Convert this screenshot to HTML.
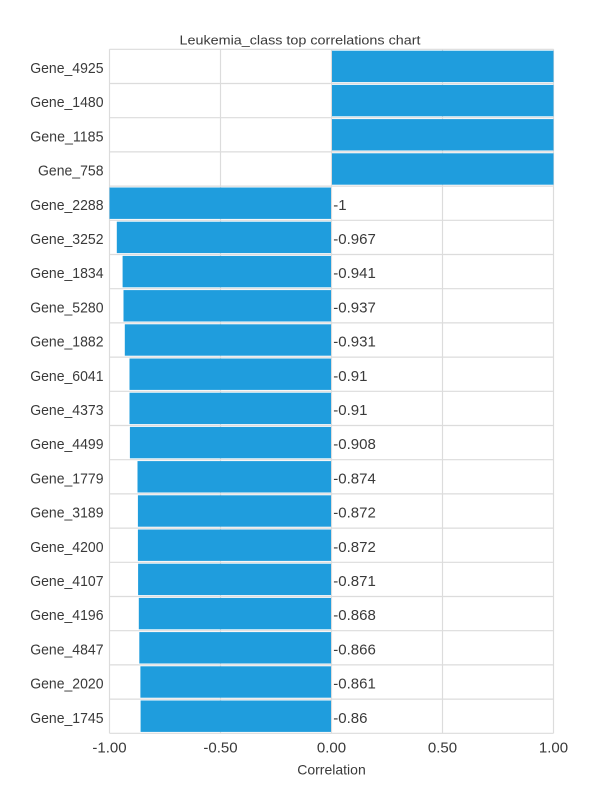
<!DOCTYPE html>
<html><head><meta charset="utf-8"><style>
html,body{margin:0;padding:0;background:#fff;}
svg{display:block;font-family:"Liberation Sans",sans-serif;}
</style></head><body>
<svg width="600" height="810" viewBox="0 0 600 810" xmlns="http://www.w3.org/2000/svg">
<rect width="600" height="810" fill="#fff"/>
<text x="300" y="44.7" font-size="13" fill="#3a3a3a" text-anchor="middle" textLength="241" lengthAdjust="spacingAndGlyphs">Leukemia_class top correlations chart</text>
<g stroke="#dcdcdc" stroke-width="1.2" fill="none">
<line x1="109.5" y1="49.3" x2="109.5" y2="733.3"/>
<line x1="220.5" y1="49.3" x2="220.5" y2="733.3"/>
<line x1="331.5" y1="49.3" x2="331.5" y2="733.3"/>
<line x1="442.5" y1="49.3" x2="442.5" y2="733.3"/>
<line x1="553.5" y1="49.3" x2="553.5" y2="733.3"/>
<line x1="109.5" y1="49.3" x2="553.5" y2="49.3"/>
<line x1="109.5" y1="83.5" x2="553.5" y2="83.5"/>
<line x1="109.5" y1="117.7" x2="553.5" y2="117.7"/>
<line x1="109.5" y1="151.9" x2="553.5" y2="151.9"/>
<line x1="109.5" y1="186.1" x2="553.5" y2="186.1"/>
<line x1="109.5" y1="220.3" x2="553.5" y2="220.3"/>
<line x1="109.5" y1="254.5" x2="553.5" y2="254.5"/>
<line x1="109.5" y1="288.7" x2="553.5" y2="288.7"/>
<line x1="109.5" y1="322.9" x2="553.5" y2="322.9"/>
<line x1="109.5" y1="357.1" x2="553.5" y2="357.1"/>
<line x1="109.5" y1="391.3" x2="553.5" y2="391.3"/>
<line x1="109.5" y1="425.5" x2="553.5" y2="425.5"/>
<line x1="109.5" y1="459.7" x2="553.5" y2="459.7"/>
<line x1="109.5" y1="493.9" x2="553.5" y2="493.9"/>
<line x1="109.5" y1="528.1" x2="553.5" y2="528.1"/>
<line x1="109.5" y1="562.3" x2="553.5" y2="562.3"/>
<line x1="109.5" y1="596.5" x2="553.5" y2="596.5"/>
<line x1="109.5" y1="630.7" x2="553.5" y2="630.7"/>
<line x1="109.5" y1="664.9" x2="553.5" y2="664.9"/>
<line x1="109.5" y1="699.1" x2="553.5" y2="699.1"/>
<line x1="109.5" y1="733.3" x2="553.5" y2="733.3"/>
</g>
<g fill="#1f9ddd">
<rect x="332" y="50.7" width="221.5" height="31.4"/>
<rect x="332" y="84.9" width="221.5" height="31.4"/>
<rect x="332" y="119.1" width="221.5" height="31.4"/>
<rect x="332" y="153.3" width="221.5" height="31.4"/>
<rect x="109.5" y="187.5" width="221.5" height="31.4"/>
<rect x="116.8" y="221.7" width="214.2" height="31.4"/>
<rect x="122.6" y="255.9" width="208.4" height="31.4"/>
<rect x="123.5" y="290.1" width="207.5" height="31.4"/>
<rect x="124.8" y="324.3" width="206.2" height="31.4"/>
<rect x="129.5" y="358.5" width="201.5" height="31.4"/>
<rect x="129.5" y="392.7" width="201.5" height="31.4"/>
<rect x="129.9" y="426.9" width="201.1" height="31.4"/>
<rect x="137.5" y="461.1" width="193.5" height="31.4"/>
<rect x="137.9" y="495.3" width="193.1" height="31.4"/>
<rect x="137.9" y="529.5" width="193.1" height="31.4"/>
<rect x="138.1" y="563.7" width="192.9" height="31.4"/>
<rect x="138.8" y="597.9" width="192.2" height="31.4"/>
<rect x="139.3" y="632.1" width="191.7" height="31.4"/>
<rect x="140.4" y="666.3" width="190.6" height="31.4"/>
<rect x="140.6" y="700.5" width="190.4" height="31.4"/>
</g>
<g font-size="15" fill="#3a3a3a" text-anchor="end">
<text x="103.5" y="73" textLength="73.3" lengthAdjust="spacingAndGlyphs">Gene_4925</text>
<text x="103.5" y="107.2" textLength="73.3" lengthAdjust="spacingAndGlyphs">Gene_1480</text>
<text x="103.5" y="141.4" textLength="73.3" lengthAdjust="spacingAndGlyphs">Gene_1185</text>
<text x="103.5" y="175.6" textLength="65.5" lengthAdjust="spacingAndGlyphs">Gene_758</text>
<text x="103.5" y="209.8" textLength="73.3" lengthAdjust="spacingAndGlyphs">Gene_2288</text>
<text x="103.5" y="244" textLength="73.3" lengthAdjust="spacingAndGlyphs">Gene_3252</text>
<text x="103.5" y="278.2" textLength="73.3" lengthAdjust="spacingAndGlyphs">Gene_1834</text>
<text x="103.5" y="312.4" textLength="73.3" lengthAdjust="spacingAndGlyphs">Gene_5280</text>
<text x="103.5" y="346.6" textLength="73.3" lengthAdjust="spacingAndGlyphs">Gene_1882</text>
<text x="103.5" y="380.8" textLength="73.3" lengthAdjust="spacingAndGlyphs">Gene_6041</text>
<text x="103.5" y="415" textLength="73.3" lengthAdjust="spacingAndGlyphs">Gene_4373</text>
<text x="103.5" y="449.2" textLength="73.3" lengthAdjust="spacingAndGlyphs">Gene_4499</text>
<text x="103.5" y="483.4" textLength="73.3" lengthAdjust="spacingAndGlyphs">Gene_1779</text>
<text x="103.5" y="517.6" textLength="73.3" lengthAdjust="spacingAndGlyphs">Gene_3189</text>
<text x="103.5" y="551.8" textLength="73.3" lengthAdjust="spacingAndGlyphs">Gene_4200</text>
<text x="103.5" y="586" textLength="73.3" lengthAdjust="spacingAndGlyphs">Gene_4107</text>
<text x="103.5" y="620.2" textLength="73.3" lengthAdjust="spacingAndGlyphs">Gene_4196</text>
<text x="103.5" y="654.4" textLength="73.3" lengthAdjust="spacingAndGlyphs">Gene_4847</text>
<text x="103.5" y="688.6" textLength="73.3" lengthAdjust="spacingAndGlyphs">Gene_2020</text>
<text x="103.5" y="722.8" textLength="73.3" lengthAdjust="spacingAndGlyphs">Gene_1745</text>
</g>
<g font-size="15" fill="#3a3a3a">
<text x="333.3" y="209.8">-1</text>
<text x="333.3" y="244">-0.967</text>
<text x="333.3" y="278.2">-0.941</text>
<text x="333.3" y="312.4">-0.937</text>
<text x="333.3" y="346.6">-0.931</text>
<text x="333.3" y="380.8">-0.91</text>
<text x="333.3" y="415">-0.91</text>
<text x="333.3" y="449.2">-0.908</text>
<text x="333.3" y="483.4">-0.874</text>
<text x="333.3" y="517.6">-0.872</text>
<text x="333.3" y="551.8">-0.872</text>
<text x="333.3" y="586">-0.871</text>
<text x="333.3" y="620.2">-0.868</text>
<text x="333.3" y="654.4">-0.866</text>
<text x="333.3" y="688.6">-0.861</text>
<text x="333.3" y="722.8">-0.86</text>
</g>
<g font-size="15" fill="#3a3a3a" text-anchor="middle">
<text x="109.5" y="752.7">-1.00</text>
<text x="220.5" y="752.7">-0.50</text>
<text x="331.5" y="752.7">0.00</text>
<text x="442.5" y="752.7">0.50</text>
<text x="553.5" y="752.7">1.00</text>
<text x="331.5" y="774.3" font-size="14">Correlation</text>
</g>
</svg>
</body></html>
